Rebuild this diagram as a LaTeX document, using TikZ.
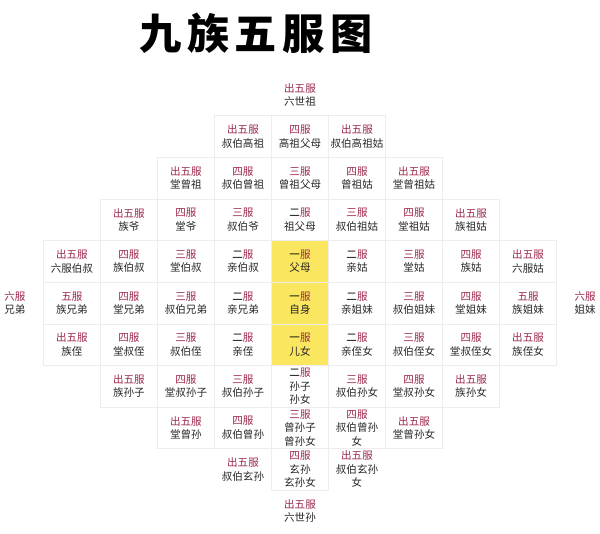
\documentclass[tikz,border=0pt]{standalone}
\usepackage{fontspec}
\newfontfamily\cjk{Noto Sans CJK SC}
\usetikzlibrary{positioning}
\definecolor{fured}{RGB}{156,40,74}
\definecolor{fuyellow}{RGB}{250,230,95}
\newcommand{\fu}[2]{{\color{fured}#1}\\#2}

\begin{document}
\begin{tikzpicture}[x=0.025cm,y=-0.025cm,node distance=1.04cm and 1.425cm,on grid,
    every node/.style={font=\cjk\fontsize{7.5}{9.6}\selectfont}]
  % cells of the mourning grid
  \tikzstyle{cell}=[rectangle,draw=black!7,text=black!85,align=center,minimum width=1.425cm,minimum height=1.04cm,inner sep=0pt]
  \tikzstyle{cellY}=[cell,fill=fuyellow]
  \tikzstyle{cellN}=[cell,draw=none]
  \useasboundingbox (0,0) rectangle (600,534);

  \node (title) at (256,33) [font=\cjk\fontsize{30}{30}\bfseries\selectfont] {九\kern4pt族\kern4pt五\kern4pt服\kern4pt图};

  % centre column
  \node[cellY]       (q_5f) at (300,303)    {\fu{{\color{black}一}服}{自身}};
  \node[cellY]       (q_4f) [above=of q_5f] {\fu{{\color{black}一}服}{父母}};
  \node[cellY]       (q_6f) [below=of q_5f] {\fu{{\color{black}一}服}{儿女}};
  \node[cell]        (q_3f) [above=of q_4f] {\fu{{\color{black}二}服}{祖父母}};
  \node[cell]        (q_2f) [above=of q_3f] {\fu{三服}{曾祖父母}};
  \node[cell]        (q_1f) [above=of q_2f] {\fu{四服}{高祖父母}};
  \node[cellN]       (q_0f) [above=of q_1f] {\fu{出五服}{六世祖}};
  \node[cell]        (q_7f) [below=of q_6f] {\fu{{\color{black}二}服}{孙子\\孙女}};
  \node[cell]        (q_8f) [below=of q_7f] {\fu{三服}{曾孙子\\曾孙女}};
  \node[cell]        (q_9f) [below=of q_8f] {\fu{四服}{玄孙\\玄孙女}};
  \node[cellN]       (q_10f) [below=of q_9f] {\fu{出五服}{六世孙}};

  % row 1
  \node[cell]        (q_1e) [left=of q_1f]  {\fu{出五服}{叔伯高祖}};
  \node[cell]        (q_1g) [right=of q_1f] {\fu{出五服}{叔伯高祖姑}};

  % row 2
  \node[cell]        (q_2e) [left=of q_2f]  {\fu{四服}{叔伯曾祖}};
  \node[cell]        (q_2d) [left=of q_2e]  {\fu{出五服}{堂曾祖}};
  \node[cell]        (q_2g) [right=of q_2f] {\fu{四服}{曾祖姑}};
  \node[cell]        (q_2h) [right=of q_2g] {\fu{出五服}{堂曾祖姑}};

  % row 3
  \node[cell]        (q_3e) [left=of q_3f]  {\fu{三服}{叔伯爷}};
  \node[cell]        (q_3d) [left=of q_3e]  {\fu{四服}{堂爷}};
  \node[cell]        (q_3c) [left=of q_3d]  {\fu{出五服}{族爷}};
  \node[cell]        (q_3g) [right=of q_3f] {\fu{三服}{叔伯祖姑}};
  \node[cell]        (q_3h) [right=of q_3g] {\fu{四服}{堂祖姑}};
  \node[cell]        (q_3i) [right=of q_3h] {\fu{出五服}{族祖姑}};

  % row 4
  \node[cell]        (q_4e) [left=of q_4f]  {\fu{{\color{black}二}服}{亲伯叔}};
  \node[cell]        (q_4d) [left=of q_4e]  {\fu{三服}{堂伯叔}};
  \node[cell]        (q_4c) [left=of q_4d]  {\fu{四服}{族伯叔}};
  \node[cell]        (q_4b) [left=of q_4c]  {\fu{出五服}{六服伯叔}};
  \node[cell]        (q_4g) [right=of q_4f] {\fu{{\color{black}二}服}{亲姑}};
  \node[cell]        (q_4h) [right=of q_4g] {\fu{三服}{堂姑}};
  \node[cell]        (q_4i) [right=of q_4h] {\fu{四服}{族姑}};
  \node[cell]        (q_4j) [right=of q_4i] {\fu{出五服}{六服姑}};

  % row 5
  \node[cell]        (q_5e) [left=of q_5f]  {\fu{{\color{black}二}服}{亲兄弟}};
  \node[cell]        (q_5d) [left=of q_5e]  {\fu{三服}{叔伯兄弟}};
  \node[cell]        (q_5c) [left=of q_5d]  {\fu{四服}{堂兄弟}};
  \node[cell]        (q_5b) [left=of q_5c]  {\fu{五服}{族兄弟}};
  \node[cellN]       (q_5a) [left=of q_5b]  {\fu{六服}{兄弟}};
  \node[cell]        (q_5g) [right=of q_5f] {\fu{{\color{black}二}服}{亲姐妹}};
  \node[cell]        (q_5h) [right=of q_5g] {\fu{三服}{叔伯姐妹}};
  \node[cell]        (q_5i) [right=of q_5h] {\fu{四服}{堂姐妹}};
  \node[cell]        (q_5j) [right=of q_5i] {\fu{五服}{族姐妹}};
  \node[cellN]       (q_5k) [right=of q_5j] {\fu{六服}{姐妹}};

  % row 6
  \node[cell]        (q_6e) [left=of q_6f]  {\fu{{\color{black}二}服}{亲侄}};
  \node[cell]        (q_6d) [left=of q_6e]  {\fu{三服}{叔伯侄}};
  \node[cell]        (q_6c) [left=of q_6d]  {\fu{四服}{堂叔侄}};
  \node[cell]        (q_6b) [left=of q_6c]  {\fu{出五服}{族侄}};
  \node[cell]        (q_6g) [right=of q_6f] {\fu{{\color{black}二}服}{亲侄女}};
  \node[cell]        (q_6h) [right=of q_6g] {\fu{三服}{叔伯侄女}};
  \node[cell]        (q_6i) [right=of q_6h] {\fu{四服}{堂叔侄女}};
  \node[cell]        (q_6j) [right=of q_6i] {\fu{出五服}{族侄女}};

  % row 7
  \node[cell]        (q_7e) [left=of q_7f]  {\fu{三服}{叔伯孙子}};
  \node[cell]        (q_7d) [left=of q_7e]  {\fu{四服}{堂叔孙子}};
  \node[cell]        (q_7c) [left=of q_7d]  {\fu{出五服}{族孙子}};
  \node[cell]        (q_7g) [right=of q_7f] {\fu{三服}{叔伯孙女}};
  \node[cell]        (q_7h) [right=of q_7g] {\fu{四服}{堂叔孙女}};
  \node[cell]        (q_7i) [right=of q_7h] {\fu{出五服}{族孙女}};

  % row 8
  \node[cell]        (q_8e) [left=of q_8f]  {\fu{四服}{叔伯曾孙}};
  \node[cell]        (q_8d) [left=of q_8e]  {\fu{出五服}{堂曾孙}};
  \node[cell]        (q_8g) [right=of q_8f] {\fu{四服}{叔伯曾孙\\女}};
  \node[cell]        (q_8h) [right=of q_8g] {\fu{出五服}{堂曾孙女}};

  % row 9
  \node[cellN]       (q_9e) [left=of q_9f]  {\fu{出五服}{叔伯玄孙}};
  \node[cellN]       (q_9g) [right=of q_9f] {\fu{出五服}{叔伯玄孙\\女}};
\end{tikzpicture}
\end{document}
